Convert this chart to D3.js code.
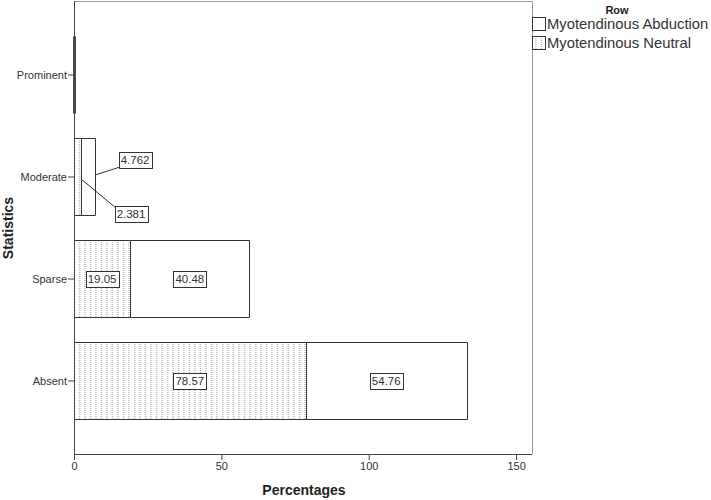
<!DOCTYPE html>
<html lang="en">
<head>
<meta charset="UTF-8">
<title>Statistics by percentages</title>
<script src="https://d3js.org/d3.v7.min.js"></script>
<style>
  body { margin: 0; background: #fff; }
  text { font-family: "Liberation Sans", Arial, sans-serif; }
</style>
</head>
<body>
<script>

const categories = ["Prominent", "Moderate", "Sparse", "Absent"];
const seriesNames = ["Myotendinous Neutral", "Myotendinous Abduction"];
const neutralValues = [0, 2.381, 19.05, 78.57];
const abductionValues = [0, 4.762, 40.48, 54.76];
const xTicks = [0, 50, 100, 150];

const w = 711;
const h = 500;
const plotL = 74, plotR = 532, plotT = 1, plotB = 454;

const svg = d3.select("body").append("svg")
    .attr("width", w)
    .attr("height", h);

// dotted fill used for the neutral series
const defs = svg.append("defs");
const pat = defs.append("pattern")
    .attr("id", "dots")
    .attr("patternUnits", "userSpaceOnUse")
    .attr("width", 5.5)
    .attr("height", 4);
pat.append("rect").attr("width", 5.5).attr("height", 4).attr("fill", "#fff");
pat.append("rect").attr("x", 2).attr("y", 0).attr("width", 1).attr("height", 1).attr("fill", "#999");
pat.append("rect").attr("x", 2).attr("y", 2).attr("width", 1).attr("height", 1).attr("fill", "#999");

const xScale = d3.scaleLinear()
    .domain([0, 155.4])
    .range([plotL, plotR]);

const yScale = d3.scaleBand()
    .domain(categories)
    .range([24, 432])
    .paddingInner(0.245)
    .paddingOuter(0.1225);

// frame
svg.append("path")
    .attr("d", `M${plotL},${plotT + 0.5}H${plotR + 0.5}V${plotB}`)
    .attr("fill", "none")
    .attr("stroke", "#999")
    .attr("stroke-width", 1);

// stacked segments
const rows = categories.map((c, i) => ({
    cat: c,
    segs: [
        { name: seriesNames[0], v: neutralValues[i], x0: 0, x1: neutralValues[i] },
        { name: seriesNames[1], v: abductionValues[i], x0: neutralValues[i], x1: neutralValues[i] + abductionValues[i] }
    ]
}));

const barG = svg.append("g");
rows.forEach(r => {
    const y0 = Math.round(yScale(r.cat)) + 0.5;
    const y1 = y0 + Math.round(yScale.bandwidth());
    r.segs.forEach((s, j) => {
        const xa = Math.round(xScale(s.x0)) + 0.5;
        const xb = Math.round(xScale(s.x1)) + 0.5;
        barG.append("path")
            .attr("d", `M${xa},${y0}H${xb}V${y1}H${xa}Z`)
            .attr("fill", j === 0 ? "url(#dots)" : "#fff")
            .attr("stroke", r.cat === "Prominent" ? "#111" : "#333")
            .attr("stroke-width", r.cat === "Prominent" ? 2 : 1);
    });
});

// value labels
function labelBox(g, x, y, txt) {
    const t = g.append("text")
        .attr("x", x).attr("y", y + 4)
        .attr("text-anchor", "middle")
        .attr("font-size", 11.5)
        .attr("fill", "#333")
        .text(txt);
    const bw = t.node().getComputedTextLength() + 4;
    g.insert("rect", "text")
        .attr("x", Math.round(x - bw / 2) + 0.5)
        .attr("y", Math.round(y - 8) + 0.5)
        .attr("width", Math.round(bw))
        .attr("height", 16)
        .attr("fill", "#fff")
        .attr("stroke", "#333");
}

const labG = svg.append("g");
rows.forEach(r => {
    const cy = yScale(r.cat) + yScale.bandwidth() / 2;
    r.segs.forEach((s, j) => {
        if (s.v === 0) return;
        const xa = xScale(s.x0), xb = xScale(s.x1);
        if (xb - xa > 30) {
            labelBox(labG.append("g"), (xa + xb) / 2, cy, d3.format(".4")(s.v));
        } else {
            // callout labels for thin segments
            const bx = j === 1 ? xb + 40 : xb + 50;
            const by = j === 1 ? cy - 17 : cy + 37;
            labG.append("line")
                .attr("x1", xb).attr("y1", j === 1 ? cy - 2 : cy + 2)
                .attr("x2", bx - 15).attr("y2", j === 1 ? by + 7 : by - 6)
                .attr("stroke", "#333");
            labelBox(labG.append("g"), bx, by, d3.format(".4")(s.v));
        }
    });
});

// axes
const xAxis = d3.axisBottom(xScale).tickValues(xTicks).tickSize(6).tickPadding(2).tickSizeOuter(0);
const yAxis = d3.axisLeft(yScale).tickSize(6).tickPadding(1).tickSizeOuter(0);

const gx = svg.append("g")
    .attr("transform", `translate(0,${plotB})`)
    .call(xAxis);
const gy = svg.append("g")
    .attr("transform", `translate(${plotL},0)`)
    .call(yAxis);

gx.select(".domain").attr("stroke", "#444").attr("d", `M${plotL},0.5H${plotR}`);
gy.select(".domain").attr("stroke", "#444").attr("d", `M0.5,${plotT}V${plotB}`);
[gx, gy].forEach(g => {
    g.selectAll(".tick line").attr("stroke", "#444");
    g.selectAll(".tick text")
        .attr("font-size", 11)
        .attr("fill", "#333")
        .attr("font-family", "Liberation Sans, Arial, sans-serif");
});

// axis titles
svg.append("text")
    .attr("x", (plotL + plotR) / 2 + 1)
    .attr("y", 495)
    .attr("text-anchor", "middle")
    .attr("font-size", 14)
    .attr("font-weight", "bold")
    .attr("fill", "#222")
    .text("Percentages");

svg.append("text")
    .attr("transform", "translate(13,228) rotate(-90)")
    .attr("text-anchor", "middle")
    .attr("font-size", 14)
    .attr("font-weight", "bold")
    .attr("fill", "#222")
    .text("Statistics");

// legend
const leg = svg.append("g");
leg.append("text")
    .attr("x", 617).attr("y", 14)
    .attr("text-anchor", "middle")
    .attr("font-size", 11)
    .attr("font-weight", "bold")
    .attr("fill", "#222")
    .text("Row");

const legItems = [
    { name: seriesNames[1], fill: "#fff" },
    { name: seriesNames[0], fill: "url(#dots)" }
];
legItems.forEach((d, i) => {
    const y = 17.5 + i * 19;
    leg.append("rect")
        .attr("x", 532.5).attr("y", y)
        .attr("width", 13).attr("height", 13)
        .attr("fill", d.fill)
        .attr("stroke", "#333");
    leg.append("text")
        .attr("x", 547).attr("y", y + 11.5)
        .attr("font-size", 14.8)
        .attr("fill", "#333")
        .text(d.name);
});

</script>
</body>
</html>
